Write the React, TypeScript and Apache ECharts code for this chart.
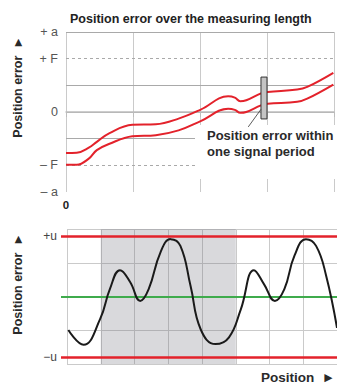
import React, { useEffect, useRef } from "react";
import * as echarts from "echarts";

// Top chart: position error over the measuring length (two envelope curves)
const topX = [0, 0.16, 0.34, 0.46, 0.65, 0.99, 1.34, 1.68, 2.01, 2.42, 2.52, 2.6, 2.69, 2.91, 3.01, 3.45, 3.6, 3.99];
const topUpper = [-1.54, -1.53, -1.34, -1.12, -0.79, -0.48, -0.46, -0.25, 0.09, 0.59, 0.54, 0.4, 0.44, 0.7, 0.75, 0.84, 0.94, 1.47];
const topLower = [-1.98, -1.98, -1.75, -1.43, -1.19, -0.91, -0.87, -0.69, -0.34, 0.12, 0.08, -0.03, 0.0, 0.25, 0.31, 0.38, 0.5, 1.03];
const topTickLabels: Record<string, string> = { "3": "+ a", "2": "+ F", "0": "0", "-2": "– F", "-3": "– a" };
const signalPeriod = { x0: 2.91, x1: 3.0, y0: 1.31, y1: -0.26 };

// Bottom chart: position error within one signal period
const botX = [0.04, 0.49, 0.98, 1.27, 1.57, 1.87, 2.17, 2.42, 2.77, 3.07, 3.36, 3.66, 3.96, 4.4, 4.8, 5.15, 5.54, 5.84, 6.16, 6.44, 6.74, 7.08, 7.38, 7.68, 8.0];
const botY = [-0.99, -1.43, -0.67, 0.22, 0.78, 0.43, -0.13, 0.22, 1.31, 1.7, 1.5, 0.32, -0.97, -1.41, -1.21, -0.38, 0.78, 0.36, -0.13, 0.22, 1.21, 1.7, 1.5, 0.61, -0.93];
const uLimit = 1.8;
const shadedPeriod = [1, 5];

const FONT = "Liberation Sans, Arial, sans-serif";
const RED = "#e3222b";
const GREEN = "#3fab4c";
const GRID_V = "#cacaca";
const GRID_H = "#a9a9a9";

export default function App() {
  const ref = useRef<HTMLDivElement>(null);
  useEffect(() => {
    if (!ref.current) return;
    const chart = echarts.init(ref.current, null, { renderer: "svg" });
    const hLine = (y: number, dashed = false) => ({
      yAxis: y,
      lineStyle: { color: GRID_H, width: 1, type: dashed ? [3, 3] : "solid" },
    });
    const limitLabel = (text: string) => ({
      show: true,
      position: "start",
      formatter: text,
      distance: 4,
      fontSize: 12,
      color: "#444",
      padding: [0, 0, 6, 0],
    });
    chart.setOption({
      animation: false,
      textStyle: { fontFamily: FONT },
      title: {
        text: "Position error over the measuring length",
        left: 65,
        top: 7,
        textStyle: { fontFamily: FONT, fontSize: 12.5, fontWeight: "bold", color: "#222" },
      },
      grid: [
        { left: 66, top: 32, width: 270, height: 160 },
        { left: 67, top: 229, width: 270, height: 135 },
        { left: 61, top: 229, width: 276, height: 135 },
      ],
      xAxis: [
        {
          gridIndex: 0,
          type: "value",
          min: 0,
          max: 4,
          interval: 1,
          axisLine: { show: true, lineStyle: { color: "#bdbdbd", width: 1.5 } },
          axisTick: { show: true, length: 5, lineStyle: { color: "#bdbdbd" } },
          axisLabel: {
            formatter: (v: number) => (v === 0 ? "0" : ""),
            fontSize: 11.5,
            fontWeight: "bold",
            color: "#222",
            margin: 7,
          },
          splitLine: { show: true, lineStyle: { color: GRID_V, width: 1 } },
        },
        {
          gridIndex: 1,
          type: "value",
          min: 0,
          max: 8,
          interval: 1,
          axisLine: { show: true, lineStyle: { color: "#bdbdbd" } },
          axisTick: { show: true, length: 3, lineStyle: { color: "#bdbdbd" } },
          axisLabel: { show: false },
          splitLine: { show: true, lineStyle: { color: GRID_V, width: 1 } },
        },
        {
          gridIndex: 2,
          type: "value",
          min: 0,
          max: 1,
          show: false,
        },
      ],
      yAxis: [
        {
          gridIndex: 0,
          type: "value",
          min: -3,
          max: 3,
          interval: 1,
          axisLine: { show: false },
          axisTick: { show: false },
          axisLabel: {
            formatter: (v: number) => topTickLabels[String(v)] ?? "",
            fontSize: 12.5,
            color: "#555",
            margin: 8,
          },
          splitLine: { show: false },
        },
        {
          gridIndex: 1,
          type: "value",
          min: -2,
          max: 2,
          interval: 1,
          axisLine: { show: false },
          axisTick: { show: false },
          axisLabel: { show: false },
          splitLine: { show: true, lineStyle: { color: GRID_V, width: 1 } },
        },
        {
          gridIndex: 2,
          type: "value",
          min: -2,
          max: 2,
          show: false,
        },
      ],
      series: [
        {
          type: "line",
          xAxisIndex: 0,
          yAxisIndex: 0,
          data: topX.map((x, i) => [x, topUpper[i]]),
          smooth: 0.4,
          showSymbol: false,
          lineStyle: { color: RED, width: 2 },
          z: 3,
          markLine: {
            silent: true,
            symbol: "none",
            z: 0,
            label: { show: false },
            data: [hLine(3), hLine(2, true), hLine(1), hLine(0), hLine(-1), hLine(-2, true)],
          },
          markArea: {
            silent: true,
            z: 10,
            itemStyle: { color: "#c4c4c4", borderColor: "#333", borderWidth: 1 },
            data: [[{ coord: [signalPeriod.x0, signalPeriod.y0] }, { coord: [signalPeriod.x1, signalPeriod.y1] }]],
          },
        },
        {
          type: "line",
          xAxisIndex: 0,
          yAxisIndex: 0,
          data: topX.map((x, i) => [x, topLower[i]]),
          smooth: 0.4,
          showSymbol: false,
          lineStyle: { color: RED, width: 2 },
          z: 3,
          markLine: {
            silent: true,
            symbol: "none",
            z: 12,
            label: { show: false },
            lineStyle: { color: "#333", width: 0.8, type: "solid" },
            data: [[{ coord: [signalPeriod.x0, 0.1] }, { coord: [2.72, -0.56] }]],
          },
        },
        {
          type: "line",
          xAxisIndex: 1,
          yAxisIndex: 1,
          data: botX.map((x, i) => [x, botY[i]]),
          smooth: 0.45,
          showSymbol: false,
          lineStyle: { color: "#1a1a1a", width: 2 },
          z: 4,
          markArea: {
            silent: true,
            z: 1,
            itemStyle: { color: "rgba(120,120,128,0.28)" },
            data: [[{ xAxis: shadedPeriod[0] }, { xAxis: shadedPeriod[1] }]],
          },
        },
        {
          type: "line",
          xAxisIndex: 2,
          yAxisIndex: 2,
          data: [],
          showSymbol: false,
          z: 3,
          markLine: {
            silent: true,
            symbol: "none",
            z: 3,
            data: [
              {
                yAxis: uLimit,
                lineStyle: { color: RED, width: 2.5, type: "solid" },
                label: limitLabel("+u"),
              },
              {
                yAxis: 0,
                lineStyle: { color: GREEN, width: 2, type: "solid" },
                label: { show: false },
              },
              {
                yAxis: -uLimit,
                lineStyle: { color: RED, width: 2.5, type: "solid" },
                label: limitLabel("−u"),
              },
            ],
          },
        },
      ],
      graphic: [
        {
          type: "rect",
          z: 1,
          shape: { x: 195, y: 125, width: 142, height: 54 },
          style: { fill: "#fff" },
          silent: true,
        },
        {
          type: "text",
          z: 20,
          x: 207,
          y: 128,
          style: {
            text: "Position error within\none signal period",
            font: `bold 13px ${FONT}`,
            fill: "#2a2a2a",
            lineHeight: 15.5,
          },
        },
        {
          type: "text",
          z: 20,
          x: 18,
          y: 87,
          rotation: Math.PI / 2,
          style: {
            text: "Position error  ►",
            font: `bold 12.5px ${FONT}`,
            fill: "#2a2a2a",
            align: "center",
            verticalAlign: "middle",
          },
        },
        {
          type: "text",
          z: 20,
          x: 18,
          y: 284,
          rotation: Math.PI / 2,
          style: {
            text: "Position error  ►",
            font: `bold 12.5px ${FONT}`,
            fill: "#2a2a2a",
            align: "center",
            verticalAlign: "middle",
          },
        },
        {
          type: "text",
          z: 20,
          x: 335,
          y: 377,
          style: {
            text: "Position  ►",
            font: `bold 13.5px ${FONT}`,
            fill: "#2a2a2a",
            align: "right",
            verticalAlign: "middle",
          },
        },
      ],
    });
    return () => chart.dispose();
  }, []);
  return <div ref={ref} style={{ position: "absolute", left: 0, top: 0, width: 337, height: 383 }} />;
}
